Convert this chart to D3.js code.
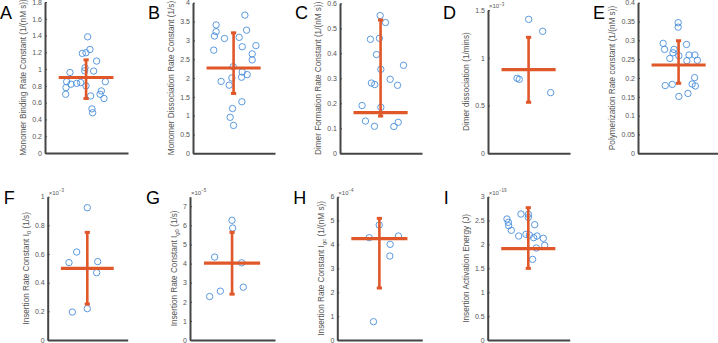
<!DOCTYPE html>
<html>
<head>
<meta charset="utf-8">
<script src="https://cdn.jsdelivr.net/npm/d3@7"></script>
<style>
  body { margin: 0; background: #fff; }
  svg { display: block; }
  text { font-family: "Liberation Sans", Arial, sans-serif; }
</style>
</head>
<body>
<svg id="chart" width="718" height="343"></svg>
<script>
// panel letters, axis titles and axis setup
const letters = ["A", "B", "C", "D", "E", "F", "G", "H", "I"];
const yLabels = [
  ["Monomer Binding Rate Constant (1/(nM s))"],
  ["Monomer Dissociation Rate Constant (1/s)"],
  ["Dimer Formation Rate Constant (1/(nM s))"],
  ["Dimer dissociation (1/mins)"],
  ["Polymerization Rate constant (1/(nM s))"],
  ["Insertion Rate Constant I", "0", " (1/s)"],
  ["Insertion Rate Constant I", "g0", " (1/s)"],
  ["Insertion Rate Constant I", "gc", " (1/(nM s))"],
  ["Insertion Activation Energy (J)"]
];
const exponents = ["", "", "", "-3", "", "-3", "-5", "-4", "-19"];
const yMaxes = [1.8, 4, 0.6, 1.5, 0.4, 1, 7.5, 6, 3];
const yTicks = [
  [0, 0.2, 0.4, 0.6, 0.8, 1, 1.2, 1.4, 1.6, 1.8],
  [0, 0.5, 1, 1.5, 2, 2.5, 3, 3.5, 4],
  [0, 0.1, 0.2, 0.3, 0.4, 0.5, 0.6],
  [0, 0.5, 1, 1.5],
  [0, 0.05, 0.1, 0.15, 0.2, 0.25, 0.3, 0.35, 0.4],
  [0, 0.2, 0.4, 0.6, 0.8, 1],
  [0, 1, 2, 3, 4, 5, 6, 7],
  [0, 1, 2, 3, 4, 5, 6],
  [0, 0.5, 1, 1.5, 2, 2.5, 3]
];

// summary: mean line and error bar ends
const means   = [0.90, 2.265, 0.163, 0.875, 0.2345, 0.50, 4.025, 4.242, 1.912];
const errLow  = [0.65, 1.59, 0.149, 0.534, 0.186, 0.251, 2.40, 2.177, 1.50];
const errHigh = [1.11, 3.20, 0.533, 1.214, 0.299, 0.751, 5.635, 5.093, 2.770];

// individual fits (value) and horizontal jitter (fraction of axis width)
const valsA = [1.385, 1.234, 1.187, 1.195, 1.096, 1.017, 0.98, 0.977, 0.96, 0.85, 0.82, 0.83,
               0.84, 0.80, 0.85, 0.78, 0.70, 0.68, 0.74, 0.70, 0.65, 0.526, 0.48];
const jitA  = [0.514, 0.542, 0.450, 0.494, 0.622, 0.482, 0.478, 0.586, 0.301, 0.261, 0.313, 0.382,
               0.430, 0.494, 0.727, 0.253, 0.249, 0.550, 0.679, 0.663, 0.711, 0.566, 0.574];
const valsB = [3.67, 3.41, 3.23, 3.115, 3.05, 3.08, 3.27, 2.74, 2.83, 2.86, 2.64, 2.48,
               2.30, 2.16, 2.09, 2.02, 2.00, 1.91, 1.81, 1.37, 1.19, 0.956, 0.74];
const jitB  = [0.633, 0.282, 0.282, 0.261, 0.384, 0.563, 0.653, 0.253, 0.600, 0.767, 0.722, 0.722,
               0.490, 0.600, 0.661, 0.592, 0.474, 0.343, 0.441, 0.596, 0.482, 0.453, 0.494];
const valsC = [0.551, 0.523, 0.456, 0.46, 0.395, 0.336, 0.352, 0.296, 0.281, 0.275, 0.272,
               0.184, 0.191, 0.129, 0.108, 0.107, 0.124];
const jitC  = [0.490, 0.555, 0.371, 0.481, 0.445, 0.498, 0.775, 0.612, 0.383, 0.424, 0.702,
               0.498, 0.269, 0.310, 0.420, 0.657, 0.710];
const valsD = [1.402, 1.277, 0.785, 0.774, 0.635];
const jitD  = [0.496, 0.667, 0.354, 0.382, 0.764];
const valsE = [0.347, 0.335, 0.292, 0.289, 0.276, 0.276, 0.267, 0.259, 0.261, 0.261, 0.252, 0.246,
               0.247, 0.201, 0.184, 0.179, 0.180, 0.183, 0.159, 0.151];
const jitE  = [0.490, 0.490, 0.307, 0.592, 0.324, 0.439, 0.426, 0.498, 0.622, 0.694, 0.388, 0.596,
               0.724, 0.690, 0.660, 0.699, 0.332, 0.418, 0.609, 0.498];
const valsF = [0.923, 0.614, 0.540, 0.547, 0.470, 0.219, 0.195];
const jitF  = [0.495, 0.362, 0.266, 0.625, 0.612, 0.495, 0.308];
const valsG = [6.265, 5.86, 4.34, 4.04, 2.765, 2.555, 2.275];
const jitG  = [0.494, 0.502, 0.290, 0.608, 0.627, 0.357, 0.231];
const valsH = [4.814, 4.284, 4.353, 4.005, 3.516, 0.767];
const jitH  = [0.493, 0.376, 0.719, 0.622, 0.618, 0.426];
const valsI = [2.533, 2.463, 2.393, 2.295, 2.637, 2.630, 2.567, 2.414, 2.177, 2.212, 2.198,
               2.142, 2.177, 2.128, 1.981, 1.926, 1.688];
const jitI  = [0.235, 0.252, 0.256, 0.288, 0.406, 0.496, 0.496, 0.573, 0.378, 0.467, 0.508,
               0.561, 0.601, 0.678, 0.695, 0.593, 0.548];

const allVals = [valsA, valsB, valsC, valsD, valsE, valsF, valsG, valsH, valsI];
const allJit  = [jitA, jitB, jitC, jitD, jitE, jitF, jitG, jitH, jitI];

// where each axes box sits on the page
const layout = [
  { x: 45,  w: 83, top: 2,   bottom: 153 },
  { x: 193, w: 82, top: 2.7, bottom: 153.3 },
  { x: 340, w: 82, top: 3.3, bottom: 153.3 },
  { x: 488, w: 82, top: 10,  bottom: 153.3 },
  { x: 638, w: 82, top: 2.7, bottom: 153.3 },
  { x: 47.7, w: 80, top: 196.7, bottom: 340 },
  { x: 190, w: 85, top: 196.7, bottom: 340 },
  { x: 337.3, w: 85, top: 196.7, bottom: 340 },
  { x: 487.7, w: 82, top: 196.7, bottom: 340 }
];

const blue = "#4a8fdb";
const orange = "#e0572a";
const axisColor = "#454545";
const textColor = "#555";
const center = 0.495;
const halfMean = 0.33;

const svg = d3.select("#chart");

letters.forEach((letter, i) => {
  const L = layout[i];
  const topRow = i < 5;
  const g = svg.append("g").attr("transform", `translate(${L.x},0)`);

  const x = d3.scaleLinear().domain([0, 1]).range([0, L.w]);
  const y = d3.scaleLinear().domain([0, yMaxes[i]]).range([L.bottom, L.top]);

  // x axis: plain baseline
  const xAxis = g.append("g")
    .attr("transform", `translate(0,${L.bottom})`)
    .call(d3.axisBottom(x).tickValues([]).tickSizeOuter(0));
  xAxis.select(".domain").attr("stroke", axisColor).attr("stroke-width", 2);

  // y axis, ticks pointing inward
  const yAxis = g.append("g")
    .call(d3.axisLeft(y)
      .tickValues(yTicks[i])
      .tickSizeInner(-2)
      .tickSizeOuter(0)
      .tickPadding(3)
      .tickFormat(d3.format("~g")));
  yAxis.select(".domain").attr("stroke", axisColor).attr("stroke-width", 2);
  yAxis.selectAll(".tick line").attr("stroke", axisColor).attr("stroke-width", 1);
  yAxis.selectAll(".tick text")
    .attr("fill", textColor)
    .style("font-size", "7px");

  const tickW = yAxis.node().getBBox().width;

  // rotated y label
  const lab = g.append("text")
    .attr("transform", `translate(${-tickW - 4},${(L.top + L.bottom) / 2}) rotate(-90)`)
    .attr("text-anchor", "middle")
    .attr("fill", textColor)
    .style("font-size", "8.2px");
  yLabels[i].forEach((part, k) => {
    const t = lab.append("tspan").text(part);
    if (k === 1) t.attr("dy", 2).style("font-size", "6px");
    if (k === 2) t.attr("dy", -2);
  });

  // exponent above the axis
  if (exponents[i]) {
    const ex = g.append("text")
      .attr("x", 1)
      .attr("y", L.top - 2)
      .attr("fill", textColor)
      .style("font-size", "6px");
    ex.append("tspan").text("\u00d710");
    ex.append("tspan").attr("dy", -2.5).style("font-size", "4.5px").text("\u2212" + exponents[i].slice(1));
  }

  // panel letter
  g.append("text")
    .attr("x", topRow ? -45 : -44)
    .attr("y", topRow ? 18.5 : 204)
    .attr("fill", "#000")
    .style("font-size", "18px")
    .text(letter);

  // data points
  const pts = allVals[i].map((v, k) => ({ v, j: allJit[i][k] }));
  g.append("g").selectAll("circle")
    .data(pts)
    .join("circle")
    .attr("cx", d => x(d.j))
    .attr("cy", d => y(d.v))
    .attr("r", 3.2)
    .attr("fill", "none")
    .attr("stroke", blue)
    .attr("stroke-width", 0.9);

  // mean and error bar
  const eb = g.append("g").attr("stroke", orange).attr("fill", "none");
  eb.append("line")
    .attr("x1", x(center)).attr("x2", x(center))
    .attr("y1", y(errLow[i])).attr("y2", y(errHigh[i]))
    .attr("stroke-width", 2.6);
  [errLow[i], errHigh[i]].forEach(v => {
    eb.append("line")
      .attr("x1", x(center) - 2.6).attr("x2", x(center) + 2.6)
      .attr("y1", y(v)).attr("y2", y(v))
      .attr("stroke-width", 3);
  });
  eb.append("line")
    .attr("x1", x(center - halfMean)).attr("x2", x(center + halfMean))
    .attr("y1", y(means[i])).attr("y2", y(means[i]))
    .attr("stroke-width", 3.2);
});
</script>
</body>
</html>
